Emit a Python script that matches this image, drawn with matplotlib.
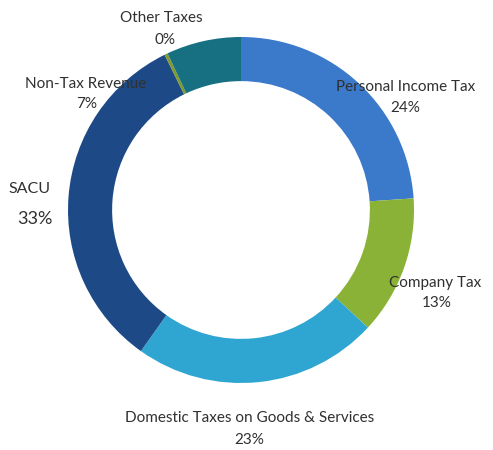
import matplotlib
matplotlib.use("Agg")
import matplotlib.pyplot as plt

# revenue shares, clockwise from 12 o'clock
categories = ['Personal Income Tax', 'Company Tax', 'Domestic Taxes on Goods & Services',
              'SACU', 'Other Taxes', 'Non-Tax Revenue']
shares = [24, 13, 23, 33, 0.3, 7]
colors = ['#3b7acb', '#8ab237', '#2fa6d2', '#1d4a86', '#7f9b2c', '#176f82']

# where each name / percentage pair sits (axes data units, ring radius = 1)
name_pos = [(0.95, 0.71), (1.12, -0.42), (0.05, -1.20), (-1.22, 0.12), (-0.46, 1.11), (-0.90, 0.73)]
pct_pos = [(0.95, 0.59), (1.13, -0.54), (0.05, -1.33), (-1.19, -0.05), (-0.44, 0.98), (-0.89, 0.61)]

plt.rcParams['font.family'] = ['Lato', 'DejaVu Sans']

fig = plt.figure(figsize=(4.93, 4.5), dpi=100)
ax = fig.add_axes([0, 0, 1, 1])

ax.pie(shares, colors=colors, startangle=90, counterclock=False,
       wedgeprops=dict(width=0.255, linewidth=0))

for name, share, npos, ppos in zip(categories, shares, name_pos, pct_pos):
    big = name == 'SACU'
    ax.text(npos[0], npos[1], name, ha='center', va='center',
            fontsize=11.5 if big else 11, color='#303030')
    ax.text(ppos[0], ppos[1], f'{share:.0f}%', ha='center', va='center',
            fontsize=13 if big else 11, color='#303030')

ax.set_aspect('auto')
ax.set_xlim(-241 / 173, 252 / 173)
ax.set_ylim(-240 / 173, 210 / 173)
ax.axis('off')

fig.savefig('out.png', dpi=100, facecolor='white')
